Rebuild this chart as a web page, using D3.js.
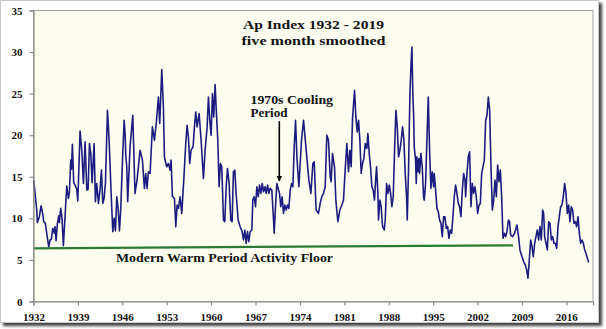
<!DOCTYPE html>
<html><head><meta charset="utf-8">
<script src="https://cdn.jsdelivr.net/npm/d3@7"></script>
<style>
html,body{margin:0;padding:0;background:#fff;}
svg{display:block;}
text{font-family:"Liberation Serif","Times New Roman",serif;font-weight:bold;fill:#111;}
</style></head>
<body>
<svg id="c" width="606" height="329"></svg>
<script>
const apYears = [1932.03,1932.51,1932.61,1932.93,1933.19,1933.45,1933.61,1933.87,1934.08,1934.4,1934.61,1934.82,1935.03,1935.29,1935.4,1935.56,1935.77,1935.98,1936.08,1936.29,1936.5,1936.71,1937.03,1937.24,1937.5,1937.66,1937.87,1937.98,1938.13,1938.34,1938.55,1938.82,1938.98,1939.13,1939.34,1939.61,1939.87,1940.13,1940.4,1940.61,1940.82,1941.03,1941.24,1941.55,1941.76,1941.97,1942.24,1942.5,1942.71,1942.92,1943.13,1943.34,1943.66,1943.92,1944.24,1944.5,1944.71,1944.92,1945.13,1945.34,1945.55,1945.76,1946.02,1946.29,1946.45,1946.55,1946.7,1946.85,1947.22,1947.65,1948.0,1948.32,1948.8,1949.17,1949.48,1949.69,1949.9,1950.11,1950.38,1950.74,1951.06,1951.37,1951.69,1951.9,1952.22,1952.48,1952.64,1953.0,1953.27,1953.53,1953.69,1953.9,1954.22,1954.43,1954.64,1954.85,1955.11,1955.37,1955.69,1956.0,1956.21,1956.42,1956.63,1956.84,1957.16,1957.37,1957.58,1957.79,1958.11,1958.42,1958.79,1959.05,1959.37,1959.58,1959.79,1960.0,1960.21,1960.42,1960.63,1960.84,1961.05,1961.26,1961.47,1961.68,1961.95,1962.16,1962.37,1962.58,1962.84,1963.1,1963.31,1963.52,1963.73,1963.94,1964.26,1964.58,1964.89,1965.1,1965.31,1965.52,1965.73,1965.94,1966.15,1966.42,1966.57,1966.79,1967.0,1967.21,1967.42,1967.63,1967.84,1968.05,1968.26,1968.47,1968.68,1968.89,1969.1,1969.31,1969.57,1969.84,1969.94,1970.15,1970.36,1970.57,1970.78,1970.99,1971.2,1971.41,1971.62,1971.83,1972.05,1972.26,1972.47,1972.68,1972.89,1973.1,1973.31,1973.52,1973.83,1974.25,1974.57,1974.99,1975.41,1975.73,1976.04,1976.25,1976.55,1976.93,1977.19,1977.45,1977.72,1977.98,1978.24,1978.5,1978.77,1978.92,1979.14,1979.45,1979.66,1979.98,1980.29,1980.61,1980.87,1981.13,1981.4,1981.66,1981.87,1982.08,1982.29,1982.61,1982.82,1983.03,1983.24,1983.45,1983.66,1983.87,1984.08,1984.29,1984.55,1984.71,1984.92,1985.13,1985.34,1985.55,1985.76,1985.87,1986.08,1986.29,1986.39,1986.6,1986.81,1987.03,1987.29,1987.45,1987.66,1987.87,1988.08,1988.29,1988.5,1988.71,1988.92,1989.13,1989.34,1989.55,1989.76,1989.97,1990.18,1990.39,1990.6,1990.81,1990.92,1991.13,1991.34,1991.5,1991.65,1991.81,1991.92,1992.02,1992.23,1992.34,1992.44,1992.6,1992.76,1992.86,1993.07,1993.28,1993.49,1993.6,1993.81,1994.02,1994.23,1994.44,1994.65,1994.86,1995.07,1995.18,1995.39,1995.6,1995.81,1996.02,1996.23,1996.44,1996.65,1996.86,1997.07,1997.28,1997.49,1997.7,1997.91,1998.12,1998.33,1998.54,1998.75,1998.96,1999.17,1999.38,1999.6,1999.81,2000.02,2000.12,2000.33,2000.54,2000.75,2000.96,2001.17,2001.38,2001.59,2001.8,2002.02,2002.23,2002.44,2002.65,2002.86,2003.07,2003.28,2003.49,2003.7,2003.91,2004.12,2004.33,2004.54,2004.75,2004.96,2005.17,2005.38,2005.59,2005.8,2006.01,2006.22,2006.43,2006.64,2006.86,2007.05,2007.21,2007.53,2007.84,2008.05,2008.21,2008.47,2008.68,2009.0,2009.26,2009.53,2009.74,2009.95,2010.16,2010.37,2010.58,2010.79,2011.0,2011.21,2011.42,2011.63,2011.84,2012.05,2012.26,2012.42,2012.58,2012.79,2013.0,2013.21,2013.42,2013.63,2013.84,2014.05,2014.26,2014.47,2014.68,2014.89,2015.1,2015.31,2015.52,2015.73,2015.94,2016.15,2016.36,2016.57,2016.78,2016.99,2017.2,2017.42,2017.63,2017.84,2018.05,2018.26,2018.47,2018.68,2018.89,2019.1,2019.31,2019.52];
const apValues = [14.6,11.0,9.5,10.2,11.5,10.6,9.6,9.4,8.2,6.6,7.4,7.5,8.8,8.2,9.0,7.3,9.4,10.3,9.5,11.2,10.0,6.7,11.0,13.9,12.4,13.1,17.0,15.9,18.9,14.3,14.0,13.5,12.1,15.4,20.5,18.2,14.2,19.2,13.4,13.5,19.0,17.8,14.3,19.0,12.0,14.2,11.8,13.5,15.8,11.8,12.4,14.2,23.0,19.4,13.0,8.4,10.0,8.5,12.6,11.2,8.5,11.2,16.8,21.8,20.0,17.5,16.3,12.0,18.6,22.4,13.0,14.6,18.2,17.0,13.6,15.4,13.6,15.6,15.4,21.0,19.4,21.6,24.6,21.4,27.9,23.4,17.4,16.2,16.6,15.8,17.0,12.6,12.4,9.0,11.6,11.2,12.6,10.6,14.6,19.0,21.2,19.8,16.6,18.2,18.6,21.0,22.8,21.0,22.6,19.4,14.8,18.2,21.0,24.6,21.8,20.0,25.0,22.2,26.1,22.6,19.4,13.8,16.6,16.2,9.8,9.6,13.8,16.0,14.2,9.8,9.6,15.6,15.8,13.0,9.8,9.0,8.4,7.4,8.6,7.0,8.4,7.2,8.4,8.6,12.2,12.6,11.4,13.8,12.6,14.0,13.0,14.2,13.2,13.8,13.0,14.0,13.0,13.6,13.4,9.8,8.2,11.4,14.2,13.6,13.0,11.4,12.6,10.6,11.6,11.0,11.6,11.2,13.4,14.2,13.8,18.6,21.8,17.4,13.8,19.4,21.8,18.2,14.6,13.0,16.6,16.8,11.0,10.6,11.8,12.6,13.0,13.8,20.0,19.4,15.0,14.4,17.8,16.2,12.2,9.6,11.0,11.6,12.2,15.8,19.0,15.6,18.2,16.2,22.0,25.4,22.2,20.4,21.8,19.4,15.4,16.6,17.2,19.0,18.4,20.2,17.8,16.2,13.8,13.4,12.2,13.8,16.2,13.0,9.8,12.2,11.4,9.0,8.6,9.8,14.2,13.0,14.0,13.0,11.4,12.6,18.2,23.0,21.0,17.4,18.2,19.4,21.0,19.4,15.4,12.6,9.8,16.2,25.0,28.3,30.6,24.7,22.6,18.6,17.0,14.2,17.4,15.6,17.2,15.4,17.8,16.2,12.6,12.2,14.2,19.4,24.6,18.2,13.6,15.6,13.8,15.4,13.4,11.2,10.8,9.8,9.4,7.8,10.2,10.2,8.8,9.0,7.6,8.6,8.2,10.2,12.6,14.0,13.0,11.8,11.4,10.2,13.4,15.4,14.6,12.6,15.4,17.4,18.0,11.4,14.2,13.0,13.8,12.6,10.6,11.6,11.8,15.4,16.2,17.0,21.8,22.4,24.6,23.0,16.2,11.0,12.2,14.6,12.6,16.4,14.4,15.8,12.6,7.6,8.2,7.8,8.4,9.8,9.6,8.0,7.8,8.2,8.8,9.2,7.8,6.2,5.4,4.8,4.4,3.8,2.8,5.0,7.4,6.6,5.4,7.0,7.8,8.6,7.4,9.0,7.4,11.0,10.6,7.8,7.0,6.2,9.6,9.4,7.4,7.8,7.0,7.0,6.4,9.0,10.2,11.4,11.6,12.6,14.2,13.0,10.6,11.6,9.6,11.4,11.0,9.4,9.6,9.0,10.2,8.2,7.0,7.4,7.0,6.2,5.8,5.2,4.7];
const xTickYears = [1932,1939,1946,1953,1960,1967,1974,1981,1988,1995,2002,2009,2016];
const yTickValues = [0,5,10,15,20,25,30,35];
const floorYears = [1932, 2007.6];
const floorValues = [6.4, 6.75];
const titleLines = ["Ap Index 1932 - 2019", "five month smoothed"];
const noteLines = ["1970s Cooling", "Period"];
const noteArrowYear = 1970.75, noteArrowFrom = 21.7, noteArrowTo = 14.5;
const floorLabel = "Modern Warm Period Activity Floor";

const svg = d3.select("#c");
const defs = svg.append("defs");
const f = defs.append("filter").attr("id","sh").attr("x","-5%").attr("y","-5%").attr("width","115%").attr("height","115%");
f.append("feDropShadow").attr("dx",3).attr("dy",3).attr("stdDeviation",1.6).attr("flood-color","#000").attr("flood-opacity",0.75);
defs.append("marker").attr("id","ah").attr("viewBox","0 0 10 10").attr("refX",9).attr("refY",5)
  .attr("markerWidth",6).attr("markerHeight",7).attr("markerUnits","userSpaceOnUse").attr("orient","auto")
  .append("path").attr("d","M0,0L10,5L0,10Z").attr("fill","#000");

// outer framed card
svg.append("rect").attr("x",0.5).attr("y",0.5).attr("width",598).attr("height",322)
  .attr("fill","#fff").attr("stroke","#c8c8c8").attr("filter","url(#sh)");

const L = 33.5, R = 593, T = 10.5, B = 301.5;
const x = d3.scaleLinear().domain([1932, 2020.2]).range([L, R]);
const y = d3.scaleLinear().domain([0, 35]).range([B, T]);

svg.append("rect").attr("x",L).attr("y",T).attr("width",R-L).attr("height",B-T)
  .attr("fill","#fdfdf0").attr("stroke","#a0a0a0").attr("stroke-width",1);

// floor line
svg.append("path").datum(d3.zip(floorYears, floorValues))
  .attr("d", d3.line().x(d=>x(d[0])).y(d=>y(d[1])))
  .attr("stroke","#2a7a34").attr("stroke-width",2.2).attr("fill","none");

// data line
svg.append("path").datum(d3.zip(apYears, apValues))
  .attr("d", d3.line().x(d=>x(d[0])).y(d=>y(d[1])))
  .attr("stroke","#1c1c80").attr("stroke-width",1.6).attr("fill","none").attr("stroke-linejoin","round");

// axes
const yAxis = svg.append("g").attr("transform",`translate(${L},0)`)
  .call(d3.axisLeft(y).tickValues(yTickValues).tickSize(4).tickPadding(7));
const xAxis = svg.append("g").attr("transform",`translate(0,${B})`)
  .call(d3.axisBottom(x).tickValues(xTickYears).tickFormat(d3.format("d")).tickSize(4).tickPadding(6));
[yAxis, xAxis].forEach(g=>{
  g.select(".domain").attr("stroke","#8a8a8a").attr("stroke-width",1.2);
  g.selectAll(".tick line").attr("stroke","#8a8a8a").attr("stroke-width",1.2);
  g.selectAll(".tick text").attr("font-family","Liberation Serif, serif").attr("font-weight","bold")
    .attr("font-size",11).attr("fill","#111");
});
xAxis.selectAll(".tick text").attr("dy","0.9em");

// title
svg.append("text").attr("x",313.5).attr("y",29).attr("text-anchor","middle").attr("font-size",13.5)
  .attr("textLength",141).attr("lengthAdjust","spacingAndGlyphs").text(titleLines[0]);
svg.append("text").attr("x",313.5).attr("y",44.5).attr("text-anchor","middle").attr("font-size",13.5)
  .attr("textLength",144).attr("lengthAdjust","spacingAndGlyphs").text(titleLines[1]);

// annotation
svg.append("text").attr("x",250.5).attr("y",103.5).attr("font-size",11.5)
  .attr("textLength",82.5).attr("lengthAdjust","spacingAndGlyphs").text(noteLines[0]);
svg.append("text").attr("x",250.5).attr("y",116.5).attr("font-size",11.5)
  .attr("textLength",37).attr("lengthAdjust","spacingAndGlyphs").text(noteLines[1]);
svg.append("line").attr("x1",x(noteArrowYear)).attr("x2",x(noteArrowYear))
  .attr("y1",y(noteArrowFrom)).attr("y2",y(noteArrowTo))
  .attr("stroke","#000").attr("stroke-width",1.6).attr("marker-end","url(#ah)");

svg.append("text").attr("x",116).attr("y",262).attr("font-size",13)
  .attr("textLength",217).attr("lengthAdjust","spacingAndGlyphs").text(floorLabel);
</script>
</body></html>
